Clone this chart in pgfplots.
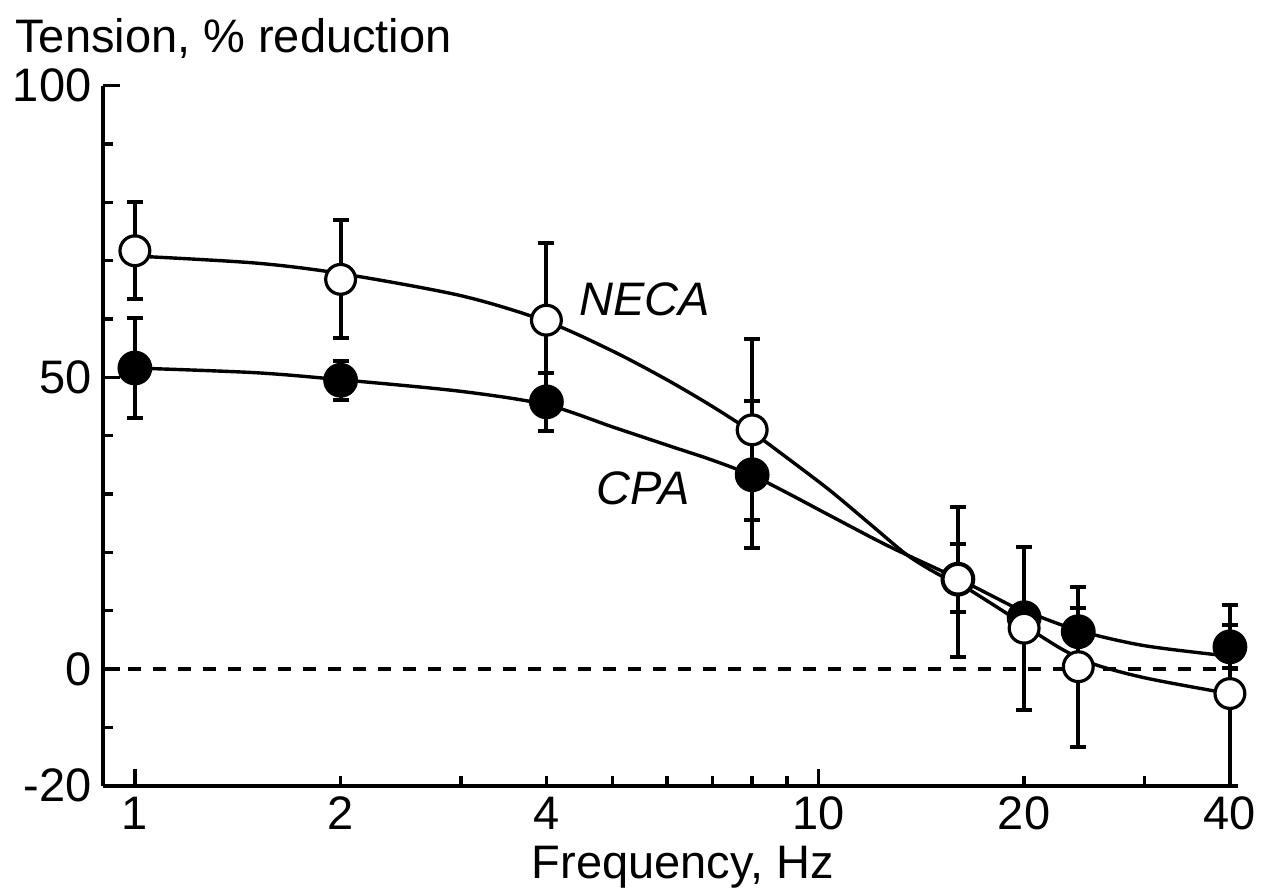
\documentclass[border=0pt]{standalone}
\usepackage{fontspec}
\setmainfont{Liberation Sans}
\usepackage{pgfplots}
\pgfplotsset{compat=1.18}
\begin{document}
\begin{tikzpicture}[font=\fontsize{23.5}{28}\selectfont]
\begin{axis}[
  scale only axis, width=567.5pt, height=350pt,
  xmode=log, xmin=0.898, xmax=41.1, ymin=-20, ymax=100,
  axis lines*=left, axis line style={line width=1.8pt},
  tick align=inside, major tick length=8.5pt, minor tick length=5pt,
  every tick/.style={black, line width=1.8pt},
  xtick={1,10}, xticklabels={1,10},
  minor xtick={2,3,4,5,6,7,8,9,20,30},
  extra x ticks={2,4,20,40}, extra x tick labels={2,4,20,40},
  extra x tick style={major tick length=5pt},
  ytick={-20,0,50,100}, yticklabels={-20,0,50,100},
  minor ytick={-10,10,20,30,40,60,70,80,90},
  xticklabel style={inner sep=0pt, anchor=north, yshift=-5.5pt},
  yticklabel style={inner sep=0pt, anchor=east, xshift=-5.6pt},
  clip=false,
]
% zero line
\addplot[black, line width=1.7pt, dash pattern=on 6.5pt off 6pt] coordinates {(0.898,0) (41.1,0)};

% fitted curves
\addplot[black, line width=1.7pt, smooth, no marks] coordinates {
  (1,51.6) (1.5,50.8) (2,49.6) (3,47.6) (4,45.3) (5,41.5) (6,38.4) (7,35.8) (8,33.2)
  (9,30.2) (10.4,26.3) (12.7,21) (16,15.5) (19.2,10.8) (20,10) (24,6.6) (30,4) (40,2.2)};
\addplot[black, line width=1.7pt, smooth, no marks] coordinates {
  (1,70.8) (1.5,69.6) (2,67.8) (3,64) (4,59.6) (5,54.5) (6,49.6) (7,45) (8,40.6)
  (9,36.2) (10.4,30.6) (12,24.5) (13.5,19.5) (15,16.2) (16,14.8) (19,9.3) (20,7.5) (22.8,3.3)
  (25.5,0.7) (30,-1.5) (37.3,-3.6) (40,-4.2)};

% CPA
\addplot[only marks, mark=*, mark size=8.2pt, mark options={fill=black, draw=black, line width=1pt},
  error bars/.cd, y dir=both, y explicit, error bar style={line width=2pt, black},
  error mark options={rotate=90, mark size=4pt, line width=2pt, black}] coordinates {
  (1,51.6) +- (0,8.6) (2,49.5) +- (0,3.3) (4,45.8) +- (0,5.0) (8,33.3) +- (0,12.6)
  (16,15.4) += (0,6.1) -= (0,5.7) (20,8.8) +- (0,2) (24,6.4) +- (0,4) (40,3.8) +- (0,3.7)};
% NECA
\addplot[only marks, mark=*, mark size=7.45pt, mark options={fill=white, draw=black, line width=1.6pt},
  error bars/.cd, y dir=both, y explicit, error bar style={line width=2pt, black},
  error mark options={rotate=90, mark size=4pt, line width=2pt, black}] coordinates {
  (1,71.7) +- (0,8.3) (2,66.8) +- (0,10.1) (4,59.8) +- (0,13.2) (8,41) +- (0,15.5)
  (16,15.4) += (0,12.3) -= (0,13.4) (20,7) +- (0,14) (24,0.4) +- (0,13.7)
  (40,-4.2) += (0,15.2) -= (0,15.8)};

\node[inner sep=0pt, font=\fontsize{23.5}{28}\selectfont\itshape] at (axis cs:5.57,63.4) {NECA};
\node[inner sep=0pt, font=\fontsize{23.5}{28}\selectfont\itshape] at (axis cs:5.54,30.9) {CPA};
\node[anchor=base west, inner sep=0pt] at (rel axis cs:-0.0775,1.047) {Tension, \% reduction};
\node[anchor=base, inner sep=0pt] at (rel axis cs:0.511,-0.132) {Frequency, Hz};
\path (rel axis cs:-0.0907,-0.1533) rectangle (rel axis cs:1.0203,1.1224);
\end{axis}
\end{tikzpicture}
\end{document}
